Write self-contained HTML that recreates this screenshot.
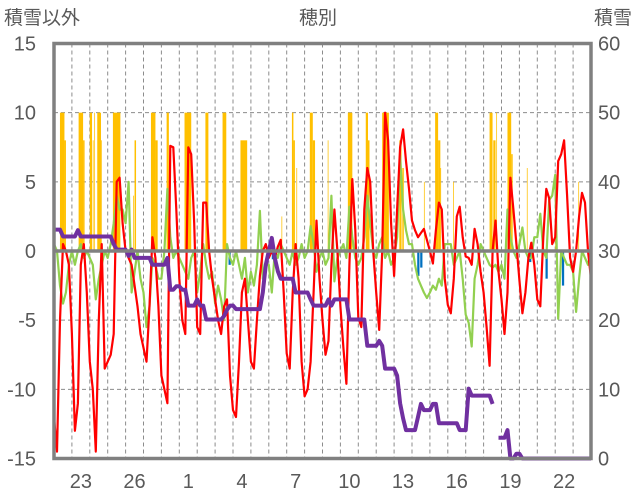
<!DOCTYPE html>
<html><head><meta charset="utf-8"><style>
html,body{margin:0;padding:0;background:#fff;}
svg{display:block;font-family:"Liberation Sans","Noto Sans CJK JP",sans-serif;}
</style></head><body>
<svg id="chart" width="636" height="501" viewBox="0 0 636 501" xmlns="http://www.w3.org/2000/svg">
<text x="4" y="24" font-size="19" fill="#595959">積雪以外</text>
<text x="318" y="24" font-size="19" fill="#595959" text-anchor="middle">穂別</text>
<text x="632" y="24" font-size="19" fill="#595959" text-anchor="end">積雪</text>
<g id="grid"></g>
<g id="bars"></g>
<g id="lines"></g>
<g id="axes"></g>
</svg>
<script>
const leftTicks=[15,10,5,0,-5,-10,-15];
const rightTicks=[60,50,40,30,20,10,0];
const dayLabels=["23","26","1","4","7","10","13","16","19","22"];
const dayLabelPos=[1.5,4.5,7.5,10.5,13.5,16.5,19.5,22.5,25.5,28.5];
const red=[-12,-14.5,-5,0.5,0,-1,
-6,-13,-11,-1,0.5,-3,
-8,-10,-14.5,-5,0.5,-8.5,
-8,-7.5,-6,5,5.3,2,
0,-0.5,-1,-2.5,-4,-6,
-7,-8,-4,1,-0.5,-4,
-9,-10,-11,7.6,7.5,3,
-2,-5,-6,7.5,7,2,
-5.5,-6,3.5,3.5,0,-2,
-3.5,-5,-6,-4,-3.5,-9,
-11.5,-12,-8,-3,-2,-5,
-8,-8.5,-5,-1.8,0,0.5,
-0.5,0,-0.5,0.3,0.8,-3,
-7.4,-8.5,-3,0.5,-2,-8,
-10.5,-10,-8,-3,2.2,-2,
-5,-7.5,-6.5,-1,3,0,
-4,-7,-9.6,-1,5.2,1.5,
-4.8,-5.5,3,6,5,0,
-3,-5.7,0,10,8,2,
-1.8,3,7.5,8.8,6.5,4.5,
2.2,1.5,1,1.3,1.6,0.8,
0,-0.9,1.5,3.5,3,-2,
-3.9,-4.5,-2,2.5,3.2,1,
-0.4,-0.5,-1,1.6,0.5,-1.5,
-3,-5.5,-8.3,0,2.2,-1.5,
-3.5,-6,-3,5.3,3,0.5,
-2.1,-4.5,-3,-0.5,0.6,-1,
-3.5,-4,1,4.5,3.8,0.5,
1,6.5,7,8,4,-0.5,
-1.5,0,2.5,4.2,3.5,0,
-2];
const green=[0.5,0,-2.5,-3.8,-3,-1,
0,-1,0,0.5,-0.5,0,
-0.5,-1,-3.5,-2,-1,0,
-0.5,0.5,2,4,3,3,
2,5,-3,-1.5,0,-2,
-3,-5.5,-4,-0.5,-1,-2,
-2,0,4.5,1,-0.5,0,
-0.5,-1,-1.5,-2,-0.5,0,
-3,-1.5,0.5,-1,-2,-1.5,
-3.8,-2.5,-3.5,-5,0.5,-0.5,
-1,0,-1,-2,-0.5,-3,
-1.5,-2.5,-1,2.9,-2,-1,
-1,-3,0,-0.5,0.5,0,
-0.5,-1,0,-1,-0.5,0.5,
-0.5,0,1.8,0.5,-1.5,-0.5,
0,-1,-0.5,4,-2.2,-0.5,
0,0.5,-0.5,3.2,1,-0.5,
-1,-0.5,1,4,2,0,
-0.5,0.5,1,-0.5,0,-1,
-0.5,1,6.9,3,1.5,0.5,
0.5,-1,-2,-2.5,-3,-3.4,
-3,-2.5,-2.8,-2,-2.5,0.5,
0.5,0.5,-1,-0.5,0,-2,
-4.6,-5.2,-6.9,-2,-1,0.5,
0,-0.5,-1,-1.2,-1,-1.5,
-1,-2,3,1,0,-0.5,
0.5,1.7,0,-0.5,-0.5,1,
1,2.7,0,-0.5,3.7,4,
5.5,-4.9,0,-0.5,-1,-1,
-1.5,-4.4,-2,0,-0.5,-1,
0];
const snow=[33.1,33.1,33.1,32.1,32.1,32.1,
32.1,32.1,33.0,32.1,32.1,32.1,
32.1,32.1,32.1,32.1,32.1,32.1,
32.1,32.1,31,30.2,30.2,30.2,
30.2,29.3,30.2,29.0,29.0,29.0,
29.0,29.0,29.0,28.0,28.0,28.0,
28.0,28.0,29.0,24.4,24.4,24.9,
24.9,24.4,24.4,22.1,22.1,22.1,
23.0,22.1,22.1,20.1,20.1,20.1,
20.1,20.1,20.1,20.6,21.5,22.1,
22.1,21.6,21.6,21.6,21.6,21.6,
21.6,21.6,21.6,21.6,24,28,
30,31.9,29,27.1,26,26,
26,26,26,24,24,24,
24,24,23,22.1,22.1,22.1,
22.1,22.1,23,22.1,23,23,
23,23,23,20.1,20.1,20.1,
20.1,20.1,20.1,16.3,16.3,16.3,
16.3,17,16.3,13,13,13,
13,12,8,5.8,4.1,4.1,
4.1,4.1,6,7.9,7.0,7.0,
7.0,7.9,7.9,5.1,5.1,5.1,
5.1,5.1,5.1,5.1,4.1,4.1,
4.1,10.1,9.1,9.1,9.1,9.1,
9.1,9.1,9.1,7.9,null,3.0,
3.0,3.0,4.1,0,0,0.7,
0.7,0,0,0,0,0,
0,0,0,0,0,0,
0,0,0,0,0,0,
0,0,0,0,0,0,
0];
const yellowHour=[8,14,33,39,48,52,54,58,63,79,106,108,130,136,151,175,203,226,250,305,319,321,325,343,347,367,394,418,421,440,463,467,496,511,515,518,535,584,589,593,608,613,634,672,703];
const yellowDur=[6,2,6,2,3,1,1,5,1,10,1,2,6,3,3,9,4,5,9,1,2,2,1,4,3,1,6,3,2,9,3,2,1,4,3,1,1,4,3,1,5,2,1,1,1];
const yellowVal=[10,8,10,8,10,8,10,10,8,10,4,8,10,8,10,10,10,10,8,2.5,10,8,6,10,8,8,10,10,8,10,8,6,5,10,8,6,5,10,8,10,10,7,6,3,5];
const blueHour=[234,292,487,491,637,659,681];
const blueVal=[-1,-0.6,-1.8,-1.2,-0.8,-2,-2.5];

const L=54,R=591,T=43.5,B=458.5,DAYS=30;
const STEP=1/6;
function xDay(t){return L+(R-L)*t/DAYS;}
function xHour(h){return xDay(h/24);}
function yL(v){return B-(v+15)/30*(B-T);}
function yR(v){return B-v/60*(B-T);}
const NS="http://www.w3.org/2000/svg";
function mk(tag,parent,attrs){const e=document.createElementNS(NS,tag);for(const k in attrs)e.setAttribute(k,attrs[k]);parent.appendChild(e);return e;}
const grid=document.getElementById('grid'),bars=document.getElementById('bars'),lines=document.getElementById('lines'),axes=document.getElementById('axes');

[10,5,-5,-10].forEach(v=>{
 const l=mk('line',grid,{x1:L,x2:R,y1:yL(v),y2:yL(v),stroke:'#8c8c8c','stroke-width':1,'stroke-dasharray':'4,3'});
 
 
});
for(let d=1;d<DAYS;d++){
 const l=mk('line',grid,{x1:xDay(d),x2:xDay(d),y1:T,y2:B,stroke:'#8c8c8c','stroke-width':1,'stroke-dasharray':'4,3'});
 
 
}
yellowHour.forEach((h,i)=>{
 const r=mk('rect',bars,{x:xHour(h),y:yL(yellowVal[i]),width:xHour(h+yellowDur[i])-xHour(h),height:yL(0)-yL(yellowVal[i]),fill:'#ffc000'});
 
 
});
blueHour.forEach((h,i)=>{
 const r=mk('rect',bars,{x:xHour(h),y:yL(0),width:xHour(h+3)-xHour(h),height:yL(blueVal[i])-yL(0),fill:'#0070c0'});
 
 
});
function path(arr,yf){let d='',pen=false;arr.forEach((v,i)=>{if(v===null){pen=false;return;}d+=(pen?'L':'M')+xDay(i*STEP).toFixed(1)+','+yf(v).toFixed(1);pen=true;});return d;}
const zl=mk('line',axes,{x1:L,x2:R,y1:yL(0),y2:yL(0),stroke:'#808080','stroke-width':3.5});


const gp=mk('path',lines,{d:path(green,yL),fill:'none',stroke:'#92d050','stroke-width':2.2,'stroke-linejoin':'round'});


const rp=mk('path',lines,{d:path(red,yL),fill:'none',stroke:'#ff0000','stroke-width':2.2,'stroke-linejoin':'round'});


const sp=mk('path',lines,{d:path(snow,yR),fill:'none',stroke:'#7030a0','stroke-width':4,'stroke-linejoin':'round'});


const frame=mk('rect',axes,{x:L,y:T,width:R-L,height:B-T,fill:'none',stroke:'#808080','stroke-width':3.5});


leftTicks.forEach(v=>{
 const t=mk('text',axes,{x:36,y:yL(v)+7,'font-size':20,fill:'#595959','text-anchor':'end'});t.textContent=v;
 
 
});
rightTicks.forEach(v=>{
 const t=mk('text',axes,{x:598,y:yL(0)+(yR(v)-yL(0))+7,'font-size':20,fill:'#595959'});t.textContent=v;
 
 
});
dayLabels.forEach((s,i)=>{
 const t=mk('text',axes,{x:xDay(dayLabelPos[i]),y:488,'font-size':20,fill:'#595959','text-anchor':'middle'});t.textContent=s;
 
 
});
</script>
</body></html>
